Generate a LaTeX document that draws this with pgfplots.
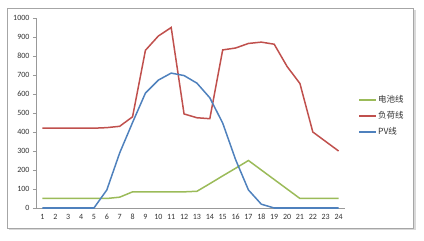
\documentclass[border=0pt]{standalone}
\usepackage{pgfplots}
\pgfplotsset{compat=1.18}
\usepackage{fontspec}
\setmainfont{Carlito}
\newfontfamily\cjk{Noto Sans CJK SC}
\definecolor{batt}{RGB}{155,187,89}
\definecolor{load}{RGB}{192,80,77}
\definecolor{pv}{RGB}{79,129,189}
\begin{document}
\begin{tikzpicture}
\begin{axis}[
  scale only axis, width=309pt, height=190pt,
  clip=false,
  xmin=0.5, xmax=24.5, ymin=0, ymax=1000,
  axis x line*=bottom, axis y line*=left,
  axis line style={gray!80, line width=0.5pt},
  xtick={1,...,24}, ytick={0,100,...,1000},
  minor xtick={0.5,1.5,...,24.5},
  xtick style={draw=none},
  minor tick length=3pt,
  minor x tick style={gray!80, yshift=-1.5pt},
  ytick style={gray!80},
  tick align=outside, major tick length=3pt,
  ticklabel style={font=\fontsize{8}{9}\selectfont, text=black!80},
  /pgf/number format/assume math mode=true,
  /pgf/number format/1000 sep={},
  legend style={at={(1.042,0.6)}, anchor=north west, draw=none, fill=none,
    font=\cjk\fontsize{8.5}{9}\selectfont, row sep=5.5pt, inner sep=0pt,
    nodes={inner sep=1pt, text=black!80}},
  legend cell align=left,
  legend image code/.code={\draw[#1] (0,0) -- (17pt,0);},
  legend image post style={line width=2pt},
]
% outer frame and bounding margins
\path ([xshift=-36pt,yshift=-32pt]rel axis cs:0,0) rectangle ([xshift=79pt,yshift=18pt]rel axis cs:1,1);
\draw[gray!30, line width=1.5pt] ([xshift=-27pt,yshift=-21pt]rel axis cs:0,0) -- ([xshift=70pt,yshift=-21pt]rel axis cs:1,0) -- ([xshift=70pt,yshift=8pt]rel axis cs:1,1);
\draw[gray!70, line width=0.5pt] ([xshift=-29pt,yshift=-20pt]rel axis cs:0,0) rectangle ([xshift=68pt,yshift=10pt]rel axis cs:1,1);
\addplot[batt, line width=1.5pt] coordinates {
(1,50)(2,50)(3,50)(4,50)(5,50)(6,50)(7,57)(8,85)(9,85)(10,85)(11,85)(12,85)
(13,88)(14,128)(15,169)(16,209)(17,250)(18,200)(19,150)(20,100)(21,50)(22,50)(23,50)(24,50)};
\addlegendentry{电池线}
\addplot[load, line width=1.5pt] coordinates {
(1,420)(2,420)(3,420)(4,420)(5,420)(6,423)(7,430)(8,480)(9,830)(10,905)(11,950)(12,495)
(13,475)(14,470)(15,832)(16,842)(17,866)(18,873)(19,862)(20,745)(21,655)(22,400)(23,350)(24,300)};
\addlegendentry{负荷线}
\addplot[pv, line width=1.5pt] coordinates {
(1,0)(2,0)(3,0)(4,0)(5,0)(6,95)(7,290)(8,450)(9,605)(10,673)(11,710)(12,697)
(13,657)(14,580)(15,447)(16,255)(17,95)(18,20)(19,0)(20,0)(21,0)(22,0)(23,0)(24,0)};
\addlegendentry{PV线}
\end{axis}
\end{tikzpicture}
\end{document}
